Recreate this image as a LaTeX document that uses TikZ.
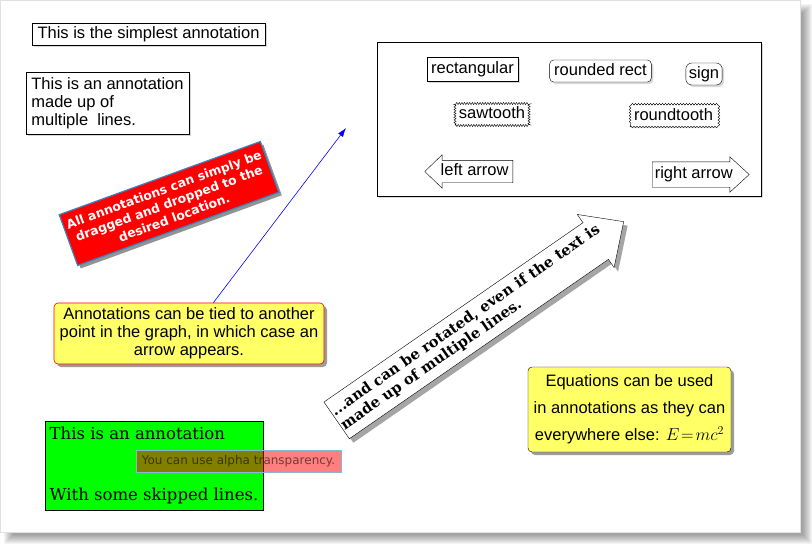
\documentclass[tikz,border=0pt]{standalone}
\usepackage{fontspec}
\setmainfont{Liberation Sans}
\newfontfamily\dvsans{DejaVu Sans}
\newfontfamily\dvserif{DejaVu Serif}
\usetikzlibrary{shapes.arrows, shapes.geometric, arrows.meta, positioning, shadows, decorations.pathmorphing, calc}

\definecolor{notefill}{RGB}{255,255,102}
\definecolor{steelblue}{RGB}{60,130,190}

\begin{document}
\begin{tikzpicture}[x=1pt, y=-1pt,
		every node/.style={font=\fontsize{16.5}{18}\selectfont},
		softshadow/.style={
			drop shadow={shadow xshift=2pt, shadow yshift=-2pt, fill=black!30, opacity=0.5}
		},
		hardshadow/.style={
			drop shadow={shadow xshift=3pt, shadow yshift=-3pt, fill=black!55, opacity=0.7}
		},
		tag/.style={
			rectangle, 
			draw=black, 
			fill=white, 
			inner xsep=4.5pt, 
			inner ysep=3pt, 
			text height=12pt, 
			text depth=4pt
		},
		note/.style={
			rectangle, 
			rounded corners=4pt, 
			fill=notefill, 
			align=center, 
			hardshadow
		},
		flag/.style={
			single arrow, 
			draw=black, 
			fill=white, 
			anchor=tail, 
			inner xsep=2pt, 
			text height=12pt, 
			text depth=4pt
		},
		link/.style={
			-{Latex[length=9pt, width=6pt]}, 
			blue, 
			semithick
		}
		]
		
		\useasboundingbox (0,0) rectangle (812,544);
		
		% Page with its shadow
		\foreach \i in {0,...,9}
			\fill[black, opacity=0.045] (4+\i,4+\i) rectangle (812-\i,544-\i);
		\filldraw[fill=white, draw=black!12] (0,0) rectangle (800,532);
		
		% Plain annotations
		\node (simple) [tag, inner xsep=5.5pt, softshadow] at (148.5,34) {This is the simplest annotation};
		\node (multi) [rectangle, draw=black, fill=white, align=left, inner sep=5pt, minimum width=163, minimum height=62, softshadow] at (107.5,103) {This is an annotation\\made up of\\multiple\ \ lines.};
		
		% Box of shapes
		\node (frame) [rectangle, draw=black, fill=white, minimum width=384, minimum height=154, softshadow] at (569,119) {};
		\node (rect) [tag, inner ysep=4pt, softshadow] at (472.5,69) {rectangular};
		\node (rrect) [tag, rounded corners=4pt, softshadow] at (600.5,71) {rounded rect};
		\node (sign) [tag, rounded corners=6pt, inner xsep=3pt, softshadow] at (704,74) {sign};
		\node (saw) [tag, inner xsep=4pt, decorate, decoration={zigzag, segment length=2.6pt, amplitude=1.1pt}] at (492,114.5) {sawtooth};
		\node (round) [tag, inner xsep=4pt, inner ysep=2.5pt, decorate, decoration={snake, segment length=3pt, amplitude=0.9pt}] at (673.5,116.5) {roundtooth};
		\node (larrow) [flag, shape border rotate=180, inner ysep=3pt, single arrow head extend=5.5pt, single arrow tip angle=88, minimum height=88pt] at (513,171.5) {left arrow};
		\node (rarrow) [flag, inner ysep=4.5pt, single arrow head extend=5pt, single arrow tip angle=85, minimum height=97pt] at (652,174.5) {right arrow};
		
		% Rotated annotations
		\node (drag) [rectangle, fill=red, draw=steelblue, line width=1.2pt, rotate=20, text=white, align=center, minimum width=214, minimum height=54, inner sep=2pt, font=\dvsans\bfseries\fontsize{12.4}{15}\selectfont, drop shadow={shadow xshift=3pt, shadow yshift=-3pt, fill=black!60, opacity=0.7}] at (169,203.5) {All annotations can simply be\\dragged and dropped to the\\desired location.};
		\node (turn) [flag, rotate=34.7, align=left, text height=, text depth=, inner xsep=1pt, inner ysep=6.5pt, single arrow head extend=10pt, single arrow tip angle=87, font=\dvserif\bfseries\fontsize{14.7}{17}\selectfont, drop shadow={shadow xshift=4pt, shadow yshift=-4pt, fill=black!50, opacity=0.7}] at (336.5,420.5) {...and can be rotated, even if the text is\\made up of multiple lines.};
		
		% Annotation tied to a point
		\node (tied) [note, draw=red, semithick, minimum width=270, minimum height=61] at (189,333.5) {Annotations can be tied to another\\point in the graph, in which case an\\arrow appears.};
		\coordinate (target) at (346,128);
		\draw [link] ($(tied.north west)!0.59!(tied.north east)$) -- (target);
		
		% Equation
		\node (eqn) [note, draw=black, thin, minimum width=203, minimum height=85, font=\fontsize{16.5}{27}\selectfont] at (629.5,409.5) {Equations can be used\\in annotations as they can\\everywhere else: $E\!=\!mc^2$};
		
		% Skipped lines and transparency
		\node (green) [rectangle, draw=black, fill=green, align=left, inner xsep=4.5pt, minimum width=218, minimum height=89, font=\dvserif\fontsize{16.5}{20}\selectfont] at (154,465.5) {This is an annotation\\[41pt]With some skipped lines.};
		\node (alpha) [rectangle, draw=steelblue!60, fill=red, fill opacity=0.5, text opacity=0.55, text=black, minimum width=205, minimum height=22, inner sep=2pt, font=\dvsans\fontsize{12}{14}\selectfont] at (238.5,461) {You can use alpha transparency.};
		
	\end{tikzpicture}
\end{document}
